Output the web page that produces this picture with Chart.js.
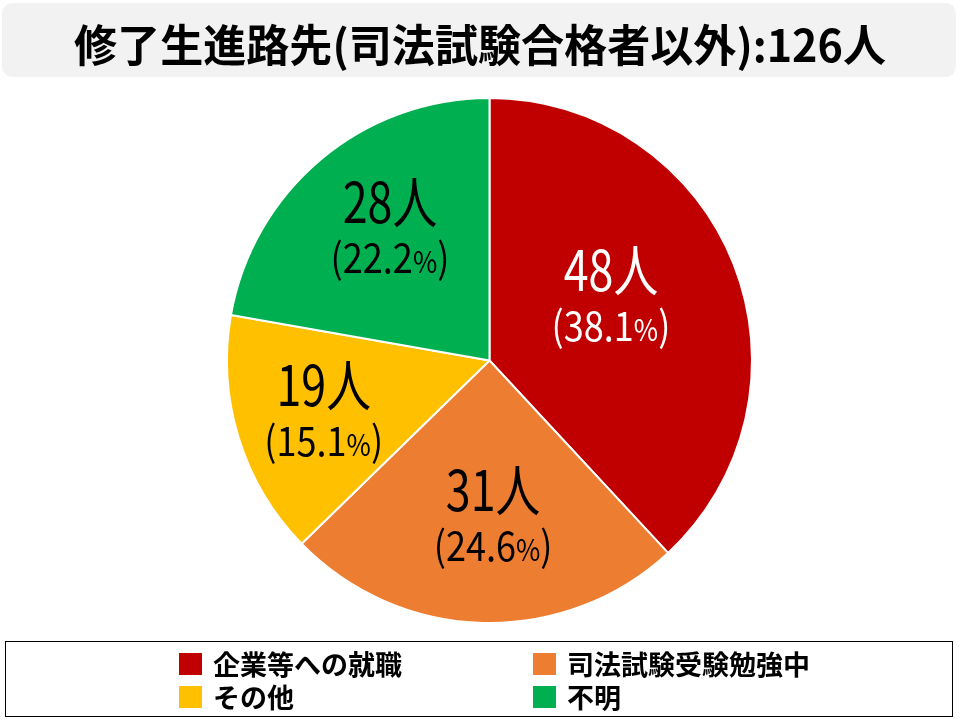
<!DOCTYPE html>
<html><head><meta charset="utf-8">
<script src="https://cdn.jsdelivr.net/npm/chart.js@4.4.1/dist/chart.umd.min.js"></script>
<style>html,body{margin:0;padding:0;background:#fff;}#wrap{width:960px;height:720px;}</style>
</head><body><div id="wrap"><canvas id="c" width="960" height="720"></canvas></div>
<script>
const titlePrefix = "修了生進路先(司法試験合格者以外):";
const categories = ["企業等への就職", "司法試験受験勉強中", "その他", "不明"];
const counts = [48, 31, 19, 28];
const unit = "人";
const colors = ["#C00000", "#ED7D31", "#FFC000", "#00B050"];
const labelColors = ["#FFFFFF", "#000000", "#000000", "#000000"];
const labelRadius = [0.493, 0.669, 0.685, 0.572];
const labelNudge = [[1, 3], [8, 0], [6, 17], [-3, 3]];

const total = counts.reduce((a, b) => a + b, 0);
const FONT = '"Noto Sans CJK JP", "Noto Sans", sans-serif';

function roundRect(ctx, x, y, w, h, r) {
  ctx.beginPath();
  ctx.moveTo(x + r, y);
  ctx.lineTo(x + w - r, y);
  ctx.quadraticCurveTo(x + w, y, x + w, y + r);
  ctx.lineTo(x + w, y + h - r);
  ctx.quadraticCurveTo(x + w, y + h, x + w - r, y + h);
  ctx.lineTo(x + r, y + h);
  ctx.quadraticCurveTo(x, y + h, x, y + h - r);
  ctx.lineTo(x, y + r);
  ctx.quadraticCurveTo(x, y, x + r, y);
  ctx.closePath();
}

const decorPlugin = {
  id: 'decor',
  beforeDraw(chart) {
    const ctx = chart.ctx;
    ctx.save();
    ctx.fillStyle = '#F2F2F2';
    roundRect(ctx, 2, 3, 954, 74, 12);
    ctx.fill();
    const title = titlePrefix + total + unit;
    ctx.font = 'bold 44px ' + FONT;
    ctx.fillStyle = '#000';
    ctx.textBaseline = 'middle';
    const w = ctx.measureText(title).width;
    const sx = Math.min(1, 812 / w);
    ctx.translate(480, 45);
    ctx.scale(sx, 1);
    ctx.textAlign = 'center';
    ctx.fillText(title, 0, 0);
    ctx.restore();
  },
  afterDraw(chart) {
    const ctx = chart.ctx;
    ctx.save();
    ctx.strokeStyle = '#000';
    ctx.lineWidth = 1;
    ctx.strokeRect(5.5, 641.5, 947, 75);
    const colX = [179, 533];
    const rowY = [653, 686];
    ctx.font = 'bold 27px ' + FONT;
    ctx.textBaseline = 'middle';
    ctx.textAlign = 'left';
    categories.forEach((cat, i) => {
      const cx = colX[i % 2], ry = rowY[Math.floor(i / 2)];
      ctx.fillStyle = colors[i];
      ctx.fillRect(cx, ry, 23, 22);
      ctx.fillStyle = '#000';
      ctx.fillText(cat, cx + 34, ry + 12);
    });
    ctx.restore();
  },
  afterDatasetsDraw(chart) {
    const ctx = chart.ctx;
    const meta = chart.getDatasetMeta(0);
    ctx.save();
    meta.data.forEach((arc, i) => {
      const p = arc.getProps(['x', 'y', 'startAngle', 'endAngle', 'outerRadius'], true);
      const a = (p.startAngle + p.endAngle) / 2;
      const r = p.outerRadius * labelRadius[i];
      const x = p.x + Math.cos(a) * r + labelNudge[i][0];
      const y = p.y + Math.sin(a) * r + labelNudge[i][1];
      const pct = (counts[i] / total * 100).toFixed(1);
      ctx.fillStyle = labelColors[i];
      ctx.textBaseline = 'alphabetic';
      // line 1
      ctx.save();
      ctx.translate(x, y);
      ctx.scale(0.8, 1);
      ctx.font = '56px ' + FONT;
      const l1 = counts[i] + unit;
      const w1 = ctx.measureText(l1).width;
      ctx.fillText(l1, -w1 / 2, -25);
      ctx.restore();
      // line 2
      ctx.save();
      ctx.translate(x, y);
      ctx.scale(0.88, 1);
      const big = '41px ' + FONT, small = '30px ' + FONT;
      const parts = [["(" + pct, big], ["%", small], [")", big]];
      let tw = 0;
      parts.forEach(pt => { ctx.font = pt[1]; tw += ctx.measureText(pt[0]).width; });
      let cx = -tw / 2;
      parts.forEach(pt => {
        ctx.font = pt[1];
        ctx.fillText(pt[0], cx, 25);
        cx += ctx.measureText(pt[0]).width;
      });
      ctx.restore();
    });
    ctx.restore();
  }
};

new Chart(document.getElementById('c'), {
  type: 'pie',
  data: {
    labels: categories,
    datasets: [{
      data: counts,
      backgroundColor: colors,
      borderColor: '#FFFFFF',
      borderWidth: 2
    }]
  },
  options: {
    responsive: false,
    devicePixelRatio: 1,
    animation: false,
    layout: { padding: { top: 97, bottom: 96, left: 226, right: 207 } },
    plugins: {
      legend: { display: false },
      title: { display: false },
      tooltip: { enabled: false }
    }
  },
  plugins: [decorPlugin]
});
</script>
</body></html>
